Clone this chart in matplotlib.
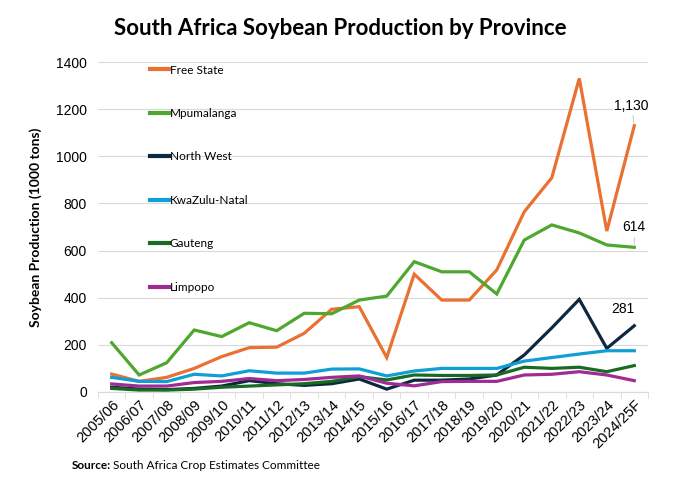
import matplotlib.pyplot as plt
import numpy as np

seasons = ["2005/06", "2006/07", "2007/08", "2008/09", "2009/10", "2010/11",
           "2011/12", "2012/13", "2013/14", "2014/15", "2015/16", "2016/17",
           "2017/18", "2018/19", "2019/20", "2020/21", "2021/22", "2022/23",
           "2023/24", "2024/25F"]

free_state = [76, 45, 62, 100, 150, 188, 190, 249, 351, 362, 146, 500,
              390, 390, 518, 765, 909, 1331, 683, 1130]
mpumalanga = [209, 72, 124, 263, 235, 294, 260, 334, 332, 390, 407, 553,
              510, 510, 416, 645, 709, 675, 624, 614]
north_west = [20, 12, 10, 15, 25, 48, 35, 28, 35, 55, 12, 50,
              50, 55, 72, 157, 272, 393, 185, 281]
kwazulu_natal = [62, 45, 44, 75, 68, 90, 80, 80, 97, 98, 68, 89,
                 100, 100, 100, 131, 146, 161, 175, 175]
gauteng = [15, 8, 8, 12, 20, 25, 30, 35, 45, 65, 51, 72,
           70, 70, 72, 105, 100, 105, 86, 112]
limpopo = [34, 25, 25, 40, 45, 57, 48, 53, 62, 68, 37, 26,
           44, 45, 45, 72, 75, 86, 72, 48]

series = [
    ("Free State", free_state, "#E97132"),
    ("Mpumalanga", mpumalanga, "#4EA72E"),
    ("North West", north_west, "#0E2841"),
    ("KwaZulu-Natal", kwazulu_natal, "#0F9ED5"),
    ("Gauteng", gauteng, "#196B24"),
    ("Limpopo", limpopo, "#A02B93"),
]

fig = plt.figure(figsize=(6.8, 4.78), dpi=100)
ax = fig.add_axes([0.144, 0.180, 0.809, 0.690])

x = np.arange(len(seasons))
for name, vals, col in series:
    ax.plot(x, vals, color=col, lw=2.3, label=name, solid_joinstyle="miter")

ax.set_xlim(-0.5, len(seasons) - 0.5)
ax.set_ylim(0, 1400)
ax.set_yticks(np.arange(0, 1401, 200))
ax.yaxis.grid(True, color="#d9d9d9", lw=0.8)
ax.set_axisbelow(True)
for s in ["top", "right", "left"]:
    ax.spines[s].set_visible(False)
ax.spines["bottom"].set_color("#d9d9d9")

ax.set_xticks(x)
ax.set_xticklabels(seasons, rotation=45, ha="right", rotation_mode="anchor",
                   fontsize=10.5, family="Liberation Sans")
ax.set_xticks(np.arange(-0.5, len(seasons)), minor=True)
ax.tick_params(axis="x", which="major", length=0, pad=4)
ax.tick_params(axis="x", which="minor", length=4, color="#d9d9d9")
ax.tick_params(axis="y", length=0, labelsize=10, pad=8)
for lbl in ax.get_yticklabels():
    lbl.set_family("Liberation Sans")

ax.set_ylabel("Soybean Production (1000 tons)", fontsize=10,
              fontweight="bold", family="Lato", labelpad=10)

leg = ax.legend(loc="upper left", bbox_to_anchor=(0.075, 1.025), frameon=False,
                handlelength=1.6, handletextpad=0.1, labelspacing=2.75,
                prop={"family": "Lato", "size": 8.5})
for h in leg.get_lines():
    h.set_linewidth(3)

last = len(seasons) - 1
ax.annotate(f"{free_state[-1]:,}", xy=(last, free_state[-1]),
            xytext=(last - 0.1, free_state[-1] + 55), ha="center", va="bottom",
            fontsize=10, family="Liberation Sans",
            arrowprops=dict(arrowstyle="-", color="#bfbfbf", lw=0.6,
                            shrinkA=0, shrinkB=2))
ax.annotate(f"{mpumalanga[-1]:,}", xy=(last, mpumalanga[-1]),
            xytext=(last, mpumalanga[-1] + 55), ha="center", va="bottom",
            fontsize=10, family="Liberation Sans",
            arrowprops=dict(arrowstyle="-", color="#bfbfbf", lw=0.6,
                            shrinkA=0, shrinkB=2))
ax.annotate(f"{north_west[-1]:,}", xy=(last, north_west[-1]),
            xytext=(last - 0.4, north_west[-1] + 42), ha="center", va="bottom",
            fontsize=10, family="Liberation Sans")

fig.text(0.5, 0.94, "South Africa Soybean Production by Province",
         ha="center", va="center", fontsize=16, fontweight="bold", family="Lato")
src = fig.text(0.105, 0.027, "Source:", fontsize=8.5, fontweight="bold",
               family="Lato", va="center")
fig.canvas.draw()
bb = src.get_window_extent().transformed(fig.transFigure.inverted())
fig.text(bb.x1 + 0.004, 0.027, "South Africa Crop Estimates Committee",
         fontsize=8.5, family="Lato", va="center")

fig.savefig("out.png", dpi=100)
